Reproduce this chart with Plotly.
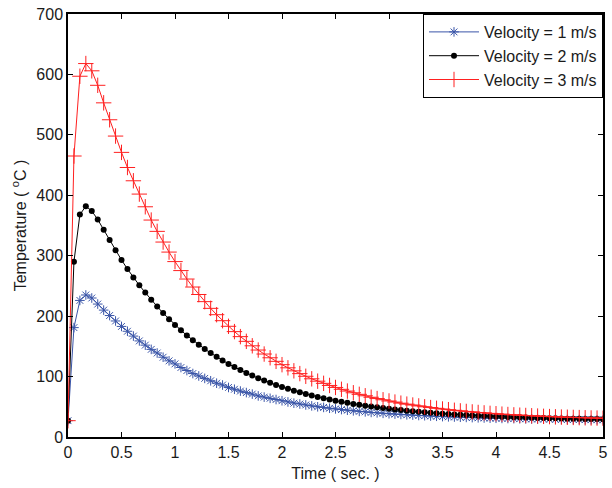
import numpy as np
import plotly.graph_objects as go

# time samples (0 to 5 s, 91 samples)
time_s = np.linspace(0, 5, 91)

temp_v1 = [27,
    181, 226, 235, 230, 220, 210, 201, 192, 183, 175,
    167, 159, 152, 145, 139, 132, 126, 121, 115, 110,
    105, 101, 97, 93, 89, 86, 82, 79, 76, 73.5,
    71, 68, 66, 64, 62, 60, 58, 56, 54.6, 53,
    51.5, 50, 49, 47.6, 46.5, 45.4, 44.3, 43.3, 42.4, 41.6,
    40.7, 40, 39.2, 38.5, 37.9, 37.3, 36.7, 36.2, 35.6, 35.2,
    34.7, 34.3, 33.8, 33.4, 33.1, 32.7, 32.4, 32.1, 31.8, 31.5,
    31.2, 31, 30.8, 30.6, 30.4, 30.2, 30, 29.8, 29.7, 29.5,
    29.4, 29.2, 29.1, 29, 28.9, 28.8, 28.7, 28.6, 28.5, 28.4]

temp_v2 = [27,
    290, 368, 382, 374, 360, 343, 326, 309, 293, 278,
    264, 251, 239, 227, 216, 205, 195,
    185.5, 176.6, 168, 160, 152.7, 145.6, 139, 132.7, 126.7, 121,
    115.8, 110.7, 106, 101.6, 97.4, 93.4, 89.7, 86.2, 82.8, 79.7,
    76.7, 73.9, 71.3, 68.8, 66.4, 64.2, 62.1, 60.1, 58.3, 56.5,
    54.8, 53.3, 51.8, 50.4, 49.1, 47.8, 46.6, 45.5, 44.5, 43.5,
    42.6, 41.7, 40.9, 40.1, 39.3, 38.6, 38, 37.4, 36.8, 36.2,
    35.7, 35.2, 34.7, 34.3, 33.9, 33.5, 33.1, 32.8, 32.5, 32.2,
    31.9, 31.6, 31.3, 31.1, 30.9, 30.6, 30.4, 30.2, 30.1, 29.9,
    29.7, 29.6, 29.4]

temp_v3 = [27, 465, 597, 618, 606, 582, 553, 525, 498, 471, 446, 424, 402, 381,
    359, 340.3, 322.6, 306, 290.3, 275.4, 261.4, 248.2, 235.8, 224,
    212.9, 202.4, 192.5, 183.2, 174.4, 166.1, 158.3, 150.9, 143.9, 137.3,
    131.1, 125.2, 119.7, 114.5, 109.5, 104.9, 100.5, 96.3, 92.4, 88.8,
    85.3, 82, 78.9, 76, 73.2, 70.6, 68.2, 65.8, 63.6, 61.6,
    59.6, 57.8, 56, 54.4, 52.9, 51.4, 50, 48.7, 47.5, 46.3,
    45.2, 44.2, 43.2, 42.3, 41.5, 40.6, 39.9, 39.1, 38.5, 37.8,
    37.2, 36.6, 36.1, 35.6, 35.1, 34.6, 34.2, 33.8, 33.4, 33,
    32.7, 32.4, 32.1, 31.8, 31.5, 31.3, 31]

series_names = ["Velocity = 1 m/s", "Velocity = 2 m/s", "Velocity = 3 m/s"]
x_ticks = [0, 0.5, 1, 1.5, 2, 2.5, 3, 3.5, 4, 4.5, 5]
x_tick_labels = ["0", "0.5", "1", "1.5", "2", "2.5", "3", "3.5", "4", "4.5", "5"]
y_ticks = [0, 100, 200, 300, 400, 500, 600, 700]

FONT = "Liberation Sans, Arial, sans-serif"

fig = go.Figure()
fig.add_trace(go.Scatter(
    x=time_s, y=temp_v1, name=series_names[0], mode="lines+markers",
    line=dict(color="#3A55A8", width=1),
    marker=dict(symbol="asterisk-open", size=8, line=dict(color="#3A55A8", width=1), color="#3A55A8")))
fig.add_trace(go.Scatter(
    x=time_s, y=temp_v2, name=series_names[1], mode="lines+markers",
    line=dict(color="black", width=1),
    marker=dict(symbol="circle", size=6, color="black")))
fig.add_trace(go.Scatter(
    x=time_s, y=temp_v3, name=series_names[2], mode="lines+markers",
    line=dict(color="#FF2020", width=1),
    marker=dict(symbol="cross-thin-open", size=11, line=dict(color="#FF2020", width=1), color="#FF2020")))

axis_common = dict(showline=True, linecolor="black", linewidth=1.5, mirror="ticks",
                   ticks="inside", ticklen=5, tickcolor="black", tickwidth=1,
                   showgrid=False, zeroline=False,
                   tickfont=dict(family=FONT, size=16, color="#1a1a1a"))

fig.update_xaxes(range=[0, 5], tickvals=x_ticks, ticktext=x_tick_labels,
                 title=dict(text="Time ( sec. )", standoff=8,
                            font=dict(family=FONT, size=16, color="#1a1a1a")),
                 **axis_common)
fig.update_yaxes(range=[0, 700], tickvals=y_ticks,
                 title=dict(text="Temperature ( <sup>o</sup>C )", standoff=6,
                            font=dict(family=FONT, size=16, color="#1a1a1a")),
                 **axis_common)

fig.update_layout(
    width=612, height=488,
    margin=dict(l=68, r=4, t=14, b=51),
    paper_bgcolor="white", plot_bgcolor="white",
    showlegend=True,
    legend=dict(x=1, y=1, xanchor="right", yanchor="top",
                bgcolor="white", bordercolor="black", borderwidth=1,
                font=dict(family=FONT, size=16, color="#1a1a1a"),
                tracegroupgap=0, itemwidth=50),
)

fig.write_html("out.html", config={"displayModeBar": False},
               post_script="document.body.style.margin='0';document.body.style.padding='0';")
